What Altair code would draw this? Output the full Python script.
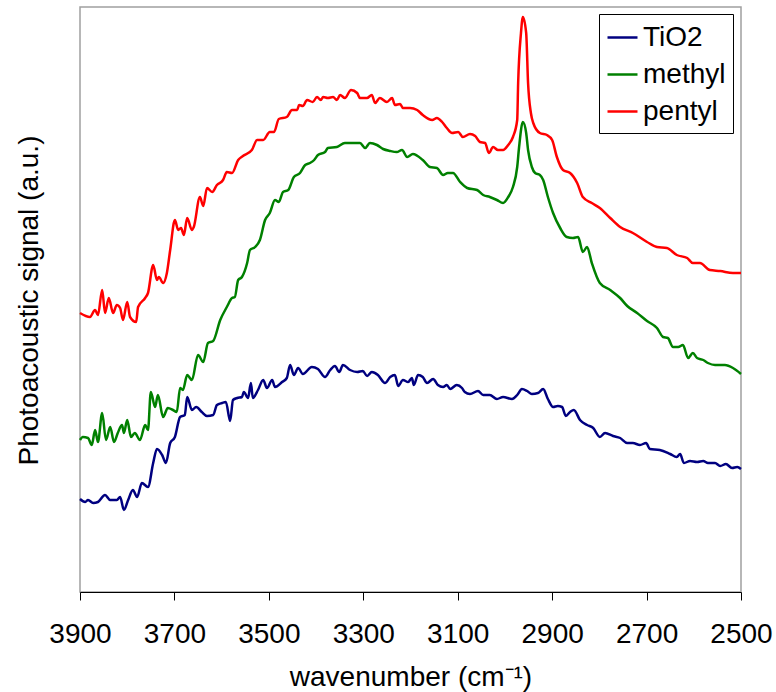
import altair as alt
import pandas as pd

# Photoacoustic IR spectra (arbitrary units), wavenumber in cm^-1
series_names = ["TiO2", "methyl", "pentyl"]
series_colors = ["#000080", "#008000", "#ff0000"]
x_ticks = [3900, 3700, 3500, 3300, 3100, 2900, 2700, 2500]

tio2_wn = [3900, 3889, 3883, 3872, 3862, 3847, 3836, 3822, 3815, 3807, 3798, 3788, 3779, 3769,
           3756, 3745, 3737, 3726, 3718, 3709, 3699, 3688, 3678, 3673, 3663, 3654, 3642, 3631,
           3618, 3610, 3599, 3591, 3582, 3576, 3567, 3557, 3553, 3544, 3538, 3534, 3523, 3512,
           3504, 3493, 3487, 3472, 3462, 3455, 3447, 3438, 3428, 3409, 3396, 3381, 3370, 3360,
           3351, 3343, 3328, 3313, 3301, 3292, 3282, 3269, 3254, 3243, 3233, 3226, 3216, 3205,
           3197, 3193, 3184, 3174, 3165, 3152, 3142, 3131, 3123, 3116, 3102, 3091, 3085, 3074,
           3057, 3046, 3032, 3017, 3004, 2985, 2974, 2964, 2953, 2943, 2930, 2919, 2909, 2898,
           2888, 2879, 2871, 2862, 2854, 2841, 2826, 2813, 2799, 2788, 2771, 2756, 2741, 2729,
           2714, 2701, 2693, 2672, 2650, 2636, 2629, 2621, 2608, 2593, 2580, 2570, 2555, 2544,
           2532, 2519, 2508, 2500]
tio2_sig = [0.93, 0.90, 0.92, 0.89, 0.90, 0.97, 0.92, 0.92, 0.95, 0.82, 0.92, 1.02, 0.95, 1.09,
            1.05, 1.29, 1.43, 1.37, 1.29, 1.49, 1.55, 1.75, 1.77, 1.95, 1.82, 1.85, 1.80, 1.76,
            1.77, 1.87, 1.89, 1.90, 1.71, 1.92, 1.94, 1.95, 2.00, 1.94, 2.09, 1.94, 2.02, 2.12,
            2.04, 2.12, 2.05, 2.10, 2.14, 2.27, 2.17, 2.24, 2.18, 2.25, 2.23, 2.15, 2.22, 2.26,
            2.20, 2.27, 2.22, 2.20, 2.21, 2.16, 2.20, 2.17, 2.09, 2.15, 2.17, 2.06, 2.12, 2.10,
            2.14, 2.07, 2.17, 2.15, 2.09, 2.13, 2.07, 2.05, 2.07, 2.03, 2.07, 2.04, 2.00, 1.98,
            2.01, 1.97, 1.97, 1.93, 1.95, 1.93, 1.97, 2.03, 2.01, 1.98, 1.99, 2.03, 1.93, 1.85,
            1.86, 1.85, 1.76, 1.80, 1.82, 1.72, 1.67, 1.64, 1.55, 1.59, 1.56, 1.54, 1.49, 1.49,
            1.47, 1.49, 1.43, 1.42, 1.38, 1.35, 1.38, 1.29, 1.31, 1.30, 1.31, 1.29, 1.29, 1.26,
            1.28, 1.24, 1.25, 1.23]

methyl_wn = [3900, 3894, 3883, 3875, 3868, 3862, 3853, 3845, 3836, 3828, 3820, 3811, 3807, 3800,
             3792, 3784, 3773, 3762, 3756, 3750, 3741, 3735, 3724, 3714, 3703, 3695, 3688, 3682,
             3673, 3663, 3650, 3639, 3629, 3618, 3603, 3589, 3578, 3572, 3565, 3557, 3546, 3540,
             3529, 3519, 3508, 3498, 3487, 3479, 3470, 3459, 3447, 3434, 3423, 3413, 3404, 3396,
             3381, 3375, 3356, 3339, 3313, 3307, 3296, 3286, 3271, 3258, 3243, 3229, 3218, 3207,
             3195, 3174, 3159, 3144, 3131, 3121, 3110, 3095, 3080, 3059, 3046, 3032, 3017, 3004,
             2993, 2983, 2974, 2970, 2962, 2955, 2951, 2943, 2936, 2926, 2919, 2909, 2898, 2883,
             2869, 2856, 2845, 2835, 2826, 2816, 2799, 2777, 2756, 2741, 2720, 2699, 2678, 2665,
             2655, 2644, 2633, 2623, 2612, 2602, 2593, 2580, 2570, 2555, 2534, 2517, 2500]
methyl_sig = [1.52, 1.55, 1.54, 1.47, 1.62, 1.50, 1.79, 1.52, 1.65, 1.50, 1.59, 1.67, 1.59, 1.72,
              1.55, 1.59, 1.52, 1.67, 1.62, 2.00, 1.85, 1.97, 1.75, 1.84, 1.82, 1.80, 2.04, 2.02,
              2.17, 2.12, 2.37, 2.30, 2.49, 2.51, 2.72, 2.85, 2.94, 2.95, 3.12, 3.15, 3.29, 3.42,
              3.45, 3.52, 3.72, 3.79, 3.92, 3.90, 4.00, 4.02, 4.15, 4.19, 4.27, 4.29, 4.32, 4.37,
              4.40, 4.44, 4.45, 4.49, 4.49, 4.49, 4.44, 4.49, 4.47, 4.43, 4.41, 4.40, 4.42, 4.35,
              4.38, 4.32, 4.25, 4.24, 4.17, 4.19, 4.19, 4.10, 4.04, 4.02, 3.97, 3.95, 3.92, 3.89,
              3.95, 4.05, 4.25, 4.45, 4.70, 4.59, 4.42, 4.25, 4.19, 4.17, 4.12, 3.95, 3.79, 3.64,
              3.55, 3.54, 3.55, 3.40, 3.45, 3.29, 3.09, 3.02, 2.94, 2.86, 2.79, 2.71, 2.64, 2.55,
              2.54, 2.45, 2.45, 2.47, 2.34, 2.39, 2.34, 2.32, 2.29, 2.27, 2.27, 2.24, 2.18]

pentyl_wn = [3900, 3879, 3868, 3862, 3853, 3847, 3839, 3830, 3822, 3815, 3809, 3800, 3794, 3781,
             3777, 3762, 3756, 3745, 3737, 3733, 3724, 3716, 3709, 3699, 3692, 3686, 3680, 3673,
             3663, 3659, 3646, 3639, 3631, 3620, 3610, 3597, 3589, 3578, 3565, 3555, 3536, 3525,
             3512, 3498, 3489, 3479, 3462, 3451, 3440, 3436, 3428, 3419, 3407, 3398, 3390, 3385,
             3375, 3364, 3356, 3349, 3339, 3326, 3313, 3307, 3292, 3282, 3275, 3265, 3250, 3239,
             3233, 3222, 3216, 3201, 3186, 3174, 3154, 3144, 3133, 3123, 3112, 3099, 3089, 3074,
             3063, 3053, 3042, 3034, 3025, 3015, 3004, 2993, 2983, 2974, 2972, 2966, 2962, 2955,
             2951, 2945, 2940, 2926, 2911, 2900, 2890, 2877, 2862, 2847, 2835, 2816, 2799, 2777,
             2756, 2729, 2699, 2678, 2657, 2636, 2614, 2602, 2587, 2566, 2544, 2517, 2500]
pentyl_sig = [2.79, 2.75, 2.82, 2.77, 3.02, 2.79, 2.94, 2.79, 2.87, 2.84, 2.72, 2.90, 2.75, 2.70,
              2.85, 2.94, 2.99, 3.27, 3.12, 3.15, 3.09, 3.19, 3.42, 3.72, 3.62, 3.64, 3.57, 3.74,
              3.62, 3.65, 3.95, 3.86, 4.04, 4.00, 4.07, 4.12, 4.20, 4.19, 4.32, 4.36, 4.42, 4.52,
              4.52, 4.60, 4.60, 4.73, 4.75, 4.82, 4.82, 4.87, 4.86, 4.92, 4.90, 4.95, 4.92, 4.95,
              4.94, 4.95, 4.92, 4.97, 4.94, 5.02, 4.99, 4.94, 4.94, 4.97, 4.89, 4.94, 4.90, 4.94,
              4.87, 4.88, 4.84, 4.84, 4.82, 4.77, 4.72, 4.74, 4.70, 4.64, 4.59, 4.60, 4.55, 4.58,
              4.56, 4.50, 4.49, 4.39, 4.45, 4.42, 4.42, 4.47, 4.55, 4.72, 5.09, 5.59, 5.75, 5.59,
              5.09, 4.79, 4.69, 4.59, 4.57, 4.52, 4.35, 4.22, 4.19, 4.09, 3.95, 3.89, 3.84, 3.74,
              3.65, 3.59, 3.50, 3.45, 3.44, 3.37, 3.34, 3.29, 3.29, 3.22, 3.21, 3.19, 3.19]

frames = []
for name, wn, sig in [("TiO2", tio2_wn, tio2_sig),
                      ("methyl", methyl_wn, methyl_sig),
                      ("pentyl", pentyl_wn, pentyl_sig)]:
    frames.append(pd.DataFrame({"wavenumber": wn, "signal": sig, "sample": name}))
df = pd.concat(frames, ignore_index=True)

FONT = "Liberation Sans"

chart = (
    alt.Chart(df)
    .mark_line(strokeWidth=2.5, interpolate="monotone")
    .encode(
        x=alt.X(
            "wavenumber:Q",
            scale=alt.Scale(domain=[2500, 3900], reverse=True, nice=False, zero=False),
            axis=alt.Axis(
                values=x_ticks,
                format="d",
                title="wavenumber (cm⁻¹)",
                grid=False,
                domainColor="black",
                domainWidth=1,
                tickColor="black",
                tickSize=8,
                tickWidth=1,
                labelFont=FONT,
                labelFontSize=28,
                labelColor="black",
                labelPadding=20,
                labelFlush=False,
                labelOverlap=False,
                titleFont=FONT,
                titleFontSize=28,
                titleFontWeight="normal",
                titleColor="black",
                titleBaseline="alphabetic",
                titleY=93,
            ),
        ),
        y=alt.Y(
            "signal:Q",
            scale=alt.Scale(domain=[0, 5.85], nice=False, zero=False),
            axis=alt.Axis(
                title="Photoacoustic signal (a.u.)",
                grid=False,
                domain=False,
                ticks=False,
                labels=False,
                titleFont=FONT,
                titleFontSize=28,
                titleFontWeight="normal",
                titleColor="black",
                titleAngle=270,
                titleBaseline="alphabetic",
                titleX=-43,
                titleY=293,
            ),
        ),
        color=alt.Color(
            "sample:N",
            scale=alt.Scale(domain=series_names, range=series_colors),
            legend=alt.Legend(
                orient="none",
                legendX=519,
                legendY=7,
                title=None,
                symbolType="stroke",
                symbolSize=900,
                symbolStrokeWidth=2.5,
                labelFont=FONT,
                labelFontSize=28,
                labelColor="black",
                labelOffset=4,
                labelLimit=300,
                rowPadding=6,
                padding=7,
                strokeColor="black",
                fillColor="white",
            ),
        ),
        order="wavenumber:Q",
    )
    .properties(
        width=661,
        height=585,
        autosize=alt.AutoSizeParams(type="none"),
        padding={"left": 80, "top": 7, "right": 35, "bottom": 100},
        background="white",
    )
    .configure_view(stroke="#a0a0a0", strokeWidth=1.5)
)

chart.save("out.html", embed_options={"renderer": "svg", "actions": False})
